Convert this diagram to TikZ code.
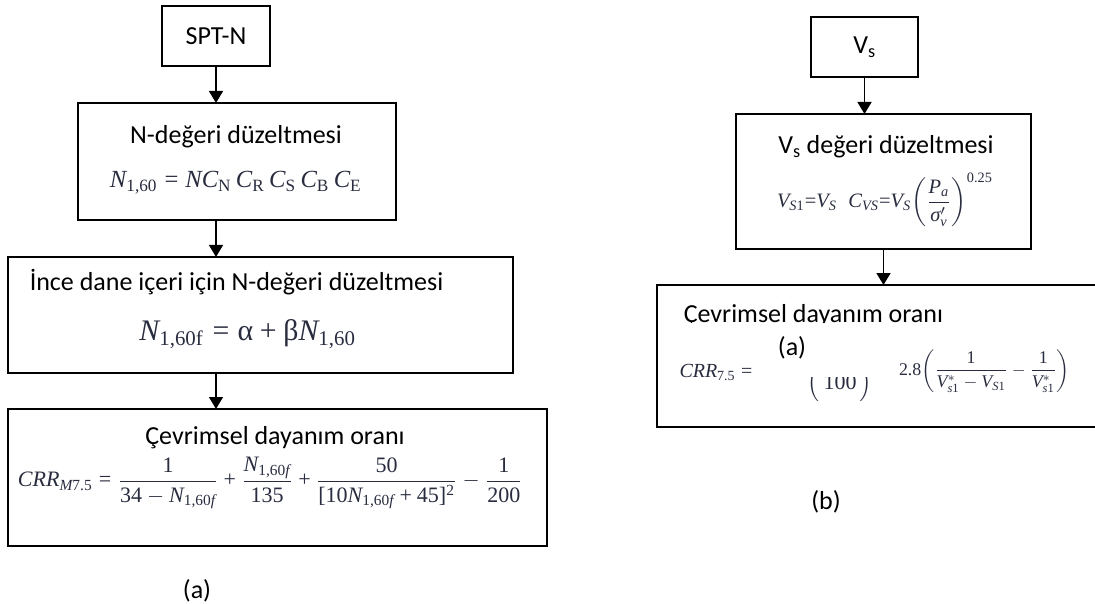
\documentclass[tikz,border=0pt]{standalone}
\usepackage{amsmath}
\usepackage{graphicx}
\usepackage[no-math]{fontspec}
\setmainfont{Carlito}
\newfontfamily\timesf{Liberation Serif}[NFSSFamily=times]
\DeclareSymbolFont{letters}{TU}{times}{m}{it}
\DeclareSymbolFont{operators}{TU}{times}{m}{n}
\mathcode`,="602C
\mathcode`.="002E
\newcommand{\upg}[1]{\text{\timesf #1}}
\newcommand{\itg}[1]{\text{\timesf\itshape #1}}
\usepackage{tikz}
\usetikzlibrary{arrows,arrows.meta}
\definecolor{formula}{RGB}{40,44,62}

\tikzset{
  box/.style={draw, line width=1.5pt, inner sep=0pt, outer sep=0pt, font=\fontsize{26}{31}\selectfont},
  txt/.style={font=\fontsize{26}{31}\selectfont, inner sep=0pt, anchor=base},
  eqn/.style={text=formula, inner sep=0pt}
}

\begin{document}
\begin{tikzpicture}[x=1pt, y=-1pt, line width=1.5pt, >={Triangle[width=14pt,length=12pt]}]
 \useasboundingbox (0,0) rectangle (1095,604);

 % (a) SPT chain
 \node[box, minimum width=108pt, minimum height=60pt] (spt) at (216,36) {SPT-N};
 \node[box, minimum width=318pt, minimum height=117pt] (nfix) at (237,161.5) {};
 \node[box, minimum width=505pt, minimum height=116pt] (fines) at (260.5,315) {};
 \node[box, minimum width=539pt, minimum height=137pt] (crra) at (277.5,477.5) {};

 \draw[->] (spt.south) -- (spt.south |- nfix.north);
 \draw[->] (spt.south |- nfix.south) -- (spt.south |- fines.north);
 \draw[->] (spt.south |- fines.south) -- (spt.south |- crra.north);

 \node[txt] (nfixlbl) at (236,143.5) {N-değeri düzeltmesi};
 \node[eqn] (nfixeq) at (236,183)
   {\resizebox{252pt}{!}{$N_{1,60} = N C_{\mathrm{N}}\, C_{\mathrm{R}}\, C_{\mathrm{S}}\, C_{\mathrm{B}}\, C_{\mathrm{E}}$}};

 \node[txt, anchor=base west] (fineslbl) at (29,290) {İnce dane içeri için N-değeri düzeltmesi};
 \node[eqn] (fineseq) at (248,334)
   {\resizebox{217pt}{!}{$N_{1,60\mathrm{f}} = \upg{α} + \upg{β} N_{1,60}$}};

 \node[txt] (crralbl) at (275,444.5) {Çevrimsel dayanım oranı};
 \node[eqn] (crraeq) at (270.5,483)
   {\resizebox{505pt}{!}{$CRR_{M7.5} = \dfrac{1}{34 - N_{1,60f}} + \dfrac{N_{1,60f}}{135} + \dfrac{50}{[10N_{1,60f} + 45]^2} - \dfrac{1}{200}$}};

 \node[txt, anchor=center] (capa) at (197,591) {(a)};

 % (b) Vs chain
 \node[box, minimum width=107pt, minimum height=60pt] (vs) at (864.5,47) {V\textsubscript{s}};
 \node[box, minimum width=295pt, minimum height=135pt] (vfix) at (883.5,181.5) {};
 \node[box, minimum width=453pt, minimum height=142pt] (crrb) at (883.5,356) {};

 \draw[->] (vs.south) -- (vs.south |- vfix.north);
 \draw[->] (vfix.south) -- (vfix.south |- crrb.north);

 \node[txt] (vfixlbl) at (886,153.5) {V\textsubscript{s} değeri düzeltmesi};
 \node[eqn] (vfixeq) at (885,200)
   {\resizebox{216pt}{!}{$V_{S1}{=}V_S\;\; C_{VS}{=}V_S\!\left(\dfrac{P_a}{\itg{σ}'_v}\right)^{0.25}$}};

 \begin{scope}
   \clip (660,290) rectangle (1095,322);
   \node[txt, anchor=base west] (crrblbl) at (683,322) {Çevrimsel dayanım oranı};
 \end{scope}
 \node[txt, anchor=center] (suba) at (792,348) {(a)};
 \node[eqn] (crrbeq) at (716,372) {\resizebox{73pt}{!}{$CRR_{7.5} =$}};
 \begin{scope}
   \clip (800,377) rectangle (880,400);
   \node[eqn, anchor=base, font=\fontsize{22}{26}\selectfont] (hundred) at (840,389) {$\Big(\,100\,\Big)$};
 \end{scope}
 \node[eqn] (crrbfrac) at (984.5,371)
   {\resizebox{171pt}{!}{$2.8\!\left(\dfrac{1}{V^{*}_{s1} - V_{S1}} - \dfrac{1}{V^{*}_{s1}}\right)$}};

 \node[txt, anchor=center] (capb) at (826,502) {(b)};
\end{tikzpicture}
\end{document}
